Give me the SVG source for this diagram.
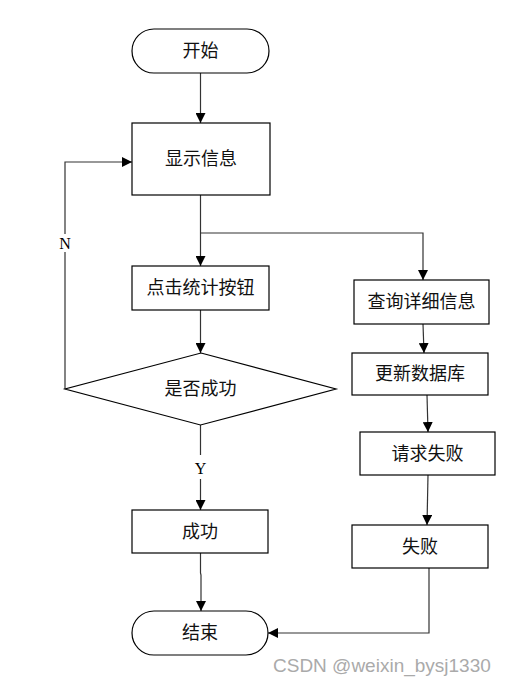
<svg xmlns="http://www.w3.org/2000/svg" width="505" height="686" viewBox="0 0 505 686">
<defs>
<style>
.box{fill:#fff;stroke:#000;stroke-width:1.2}
.ln{fill:none;stroke:#333;stroke-width:1.2}
.t{font-family:"Liberation Serif","Noto Sans CJK SC",serif;font-size:18px;fill:#111;text-anchor:middle}
.yn{font-family:"Liberation Serif",serif;font-size:16px;fill:#000;text-anchor:middle}
.wm{font-family:"Liberation Sans",sans-serif;font-size:19px;fill:#aaa}
</style>
<marker id="ar" markerWidth="10" markerHeight="10" refX="10" refY="5" orient="auto" markerUnits="userSpaceOnUse">
<path d="M0,0 L10,5 L0,10 Z" fill="#000"/>
</marker>
</defs>
<rect width="505" height="686" fill="#fff"/>
<g id="connectors">
<path class="ln" d="M200.5,73 V123" marker-end="url(#ar)"/>
<path class="ln" d="M200.5,195 V266" marker-end="url(#ar)"/>
<path class="ln" d="M200.5,233 H423 V280" marker-end="url(#ar)"/>
<path class="ln" d="M200.5,310 V353" marker-end="url(#ar)"/>
<path class="ln" d="M65,389 V252 M65,234 V162 H132" marker-end="url(#ar)"/>
<path class="ln" d="M200.5,425 V455 M200.5,479 V510" marker-end="url(#ar)"/>
<path class="ln" d="M200.5,553 V573 L201,575 V611" marker-end="url(#ar)"/>
<path class="ln" d="M423,324 L424,353" marker-end="url(#ar)"/>
<path class="ln" d="M427,395 L428,432" marker-end="url(#ar)"/>
<path class="ln" d="M428,475 L427,525" marker-end="url(#ar)"/>
<path class="ln" d="M429,568 V633 H268" marker-end="url(#ar)"/>
<text class="yn" x="65" y="249">N</text>
<text class="yn" x="200.5" y="474">Y</text>
</g>
<g id="start"><rect class="box" x="132" y="29" width="137" height="44" rx="22"/><text class="t" x="200.5" y="57">开始</text></g>
<g id="show"><rect class="box" x="132" y="123" width="138" height="72"/><text class="t" x="201" y="165">显示信息</text></g>
<g id="click"><rect class="box" x="132" y="266" width="137" height="44"/><text class="t" x="200.5" y="294">点击统计按钮</text></g>
<g id="decision"><polygon class="box" points="201,353 336,389 200.5,425 65,389"/><text class="t" x="200.5" y="395">是否成功</text></g>
<g id="success"><rect class="box" x="132" y="510" width="136" height="43"/><text class="t" x="200" y="538">成功</text></g>
<g id="end"><rect class="box" x="132" y="611" width="136" height="44" rx="22"/><text class="t" x="200" y="639">结束</text></g>
<g id="query"><rect class="box" x="354" y="280" width="135" height="44"/><text class="t" x="421.5" y="308">查询详细信息</text></g>
<g id="update"><rect class="box" x="352" y="353" width="136" height="42"/><text class="t" x="420" y="380">更新数据库</text></g>
<g id="reqfail"><rect class="box" x="360" y="432" width="135" height="43"/><text class="t" x="427.5" y="460">请求失败</text></g>
<g id="fail"><rect class="box" x="352" y="525" width="136" height="43"/><text class="t" x="420" y="553">失败</text></g>
<text class="wm" x="273" y="672">CSDN @weixin_bysj1330</text>
</svg>
